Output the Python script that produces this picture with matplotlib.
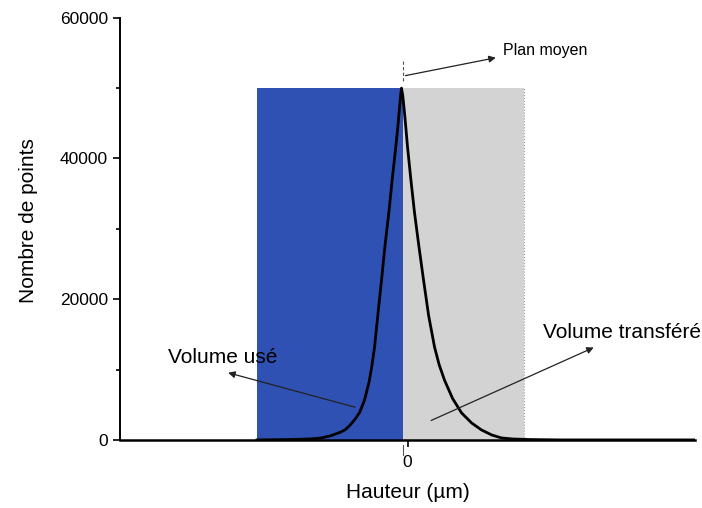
import matplotlib.pyplot as plt
from matplotlib.ticker import MultipleLocator

plt.rcParams['font.family'] = ['Liberation Sans', 'DejaVu Sans']

# Height distribution (µm, number of points)
hauteur = [-1.57, -1.2, -1.0, -0.9, -0.8, -0.7, -0.65, -0.6, -0.55, -0.5,
           -0.45, -0.4, -0.37, -0.344, -0.31, -0.271, -0.235, -0.195, -0.16,
           -0.122, -0.1, -0.085, -0.073, -0.063, -0.05, -0.035, -0.02, 0.0,
           0.035, 0.073, 0.12, 0.167, 0.22, 0.282, 0.33, 0.386, 0.47, 0.564,
           0.67, 0.772, 0.88, 0.981, 1.1, 1.29, 1.6, 3.0]
nb_points = [0, 60, 150, 280, 600, 1100, 1450, 2100, 2900, 3900,
             5600, 8300, 10700, 13200, 17700, 22750, 27600, 32300, 37000,
             41700, 44600, 47000, 48800, 50000, 49000, 47000, 44800, 41660,
             37000, 32300, 27400, 22750, 17700, 13200, 10700, 8500, 5900, 3840,
             2400, 1420, 700, 280, 130, 50, 0, 0]

# Shaded regions: worn volume (left) and transferred volume (right)
region_starts = [-1.57, -0.05]
region_widths = [1.52, 1.27]
region_height = 50000
region_colors = ['#2f51b3', '#d3d3d3']
plan_moyen = -0.05

fig = plt.figure(figsize=(7.02, 5.08), dpi=100)
ax = fig.add_axes([0.171, 0.134, 0.819, 0.831])

ax.bar(region_starts, [region_height] * 2, width=region_widths, align='edge',
       color=region_colors, linewidth=0, zorder=1)
ax.plot([region_starts[1] + region_widths[1]] * 2, [0, region_height],
        color='#999999', lw=0.8, ls=':', zorder=2)
ax.plot(hauteur, nb_points, color='black', lw=2, zorder=3,
        solid_joinstyle='round')

# mean plane marker
ax.plot([plan_moyen, plan_moyen], [51000, 54000], color='#555555', lw=0.8,
        ls=(0, (3, 2)), zorder=3)
ax.plot([plan_moyen, plan_moyen], [-2200, -700], color='#555555', lw=0.8,
        clip_on=False, zorder=3)

ax.set_xlim(-3, 3)
ax.set_ylim(0, 60000)
ax.set_xticks([0])
ax.set_xticklabels(['0'])
ax.yaxis.set_major_locator(MultipleLocator(20000))
ax.yaxis.set_minor_locator(MultipleLocator(10000))
ax.tick_params(axis='both', which='major', labelsize=12.5, length=5, width=1.2)
ax.tick_params(axis='x', pad=6)
ax.tick_params(axis='y', which='minor', length=3, width=1.2)
ax.spines['top'].set_visible(False)
ax.spines['right'].set_visible(False)
ax.spines['left'].set_linewidth(1.4)
ax.spines['bottom'].set_linewidth(1.8)
ax.spines['bottom'].set_zorder(4)

ax.set_xlabel('Hauteur (µm)', fontsize=15, labelpad=9)
ax.set_ylabel('Nombre de points', fontsize=15)
ax.yaxis.set_label_coords(-0.142, 0.52)

arrow = dict(arrowstyle='-|>', color='#222222', lw=0.9, mutation_scale=10)
ax.annotate('', xy=(0.95, 54400), xytext=(plan_moyen, 51700), arrowprops=arrow)
ax.text(1.0, 55400, 'Plan moyen', fontsize=11.5, va='center')
ax.annotate('', xy=(-1.9, 9650), xytext=(-0.52, 4550), arrowprops=arrow)
ax.text(-2.5, 11700, 'Volume usé', fontsize=15, va='center')
ax.annotate('', xy=(1.97, 13300), xytext=(0.22, 2600), arrowprops=arrow)
ax.text(1.41, 15200, 'Volume transféré', fontsize=15, va='center')

fig.savefig('out.png', dpi=100)
